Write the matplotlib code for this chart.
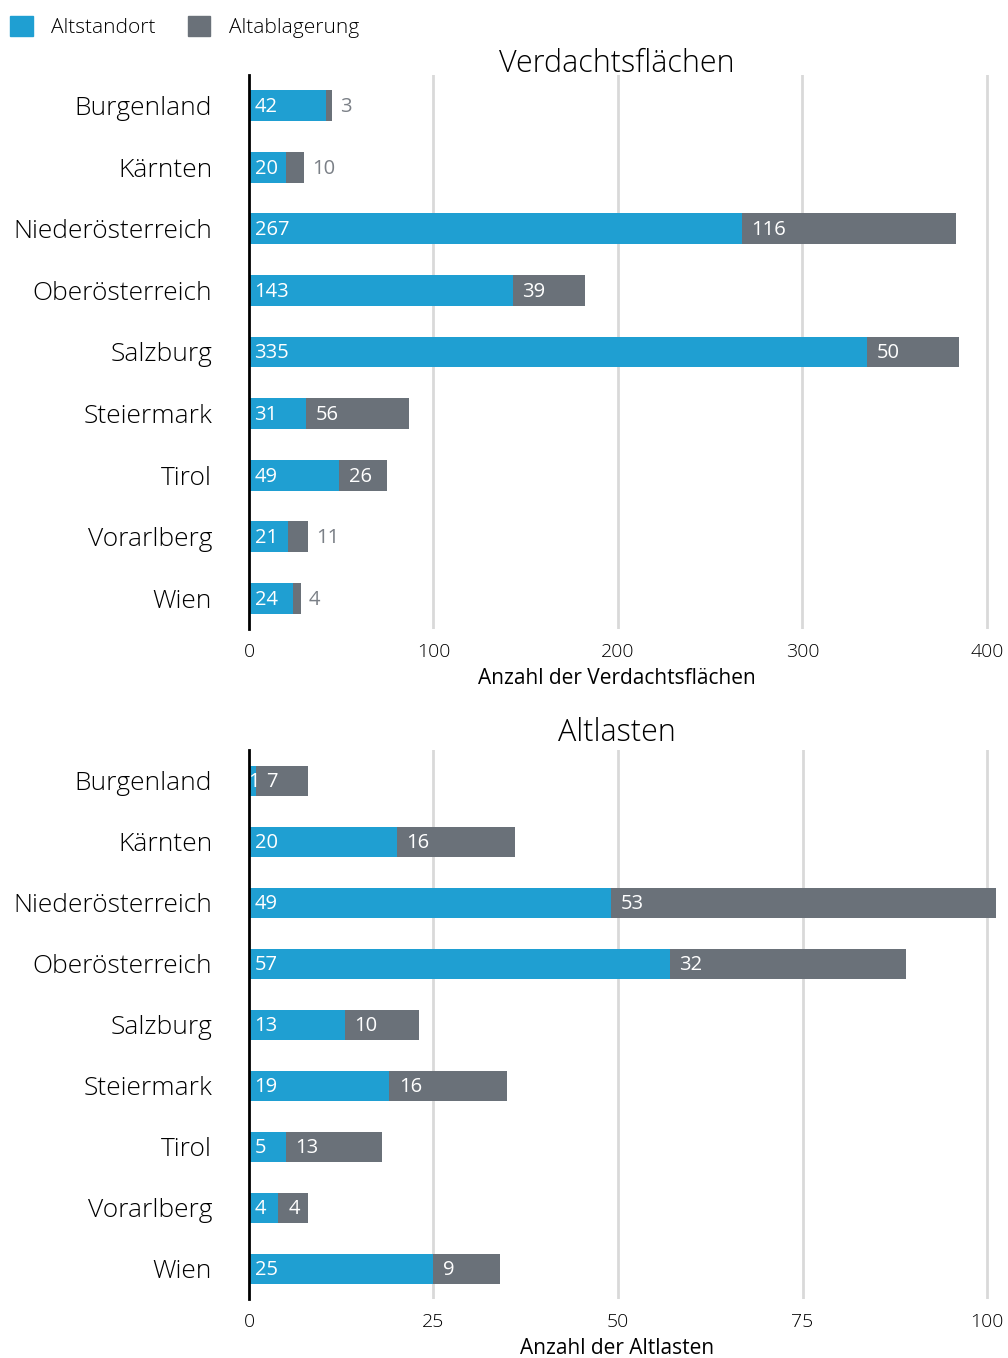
import numpy as np
import matplotlib.pyplot as plt
from matplotlib.patches import Patch

plt.rcParams['font.family'] = ['Open Sans', 'DejaVu Sans']
plt.rcParams['font.weight'] = 'light'

laender = ['Burgenland', 'Kärnten', 'Niederösterreich', 'Oberösterreich', 'Salzburg',
           'Steiermark', 'Tirol', 'Vorarlberg', 'Wien']

verdacht_altstandort = [42, 20, 267, 143, 335, 31, 49, 21, 24]
verdacht_altablagerung = [3, 10, 116, 39, 50, 56, 26, 11, 4]

altlasten_altstandort = [1, 20, 49, 57, 13, 19, 5, 4, 25]
altlasten_altablagerung = [7, 16, 53, 32, 10, 16, 13, 4, 9]

verdacht_ticks = [0, 100, 200, 300, 400]
altlasten_ticks = [0, 25, 50, 75, 100]

blau = '#1f9fd2'
grau = '#6a7179'
gitter = '#d9d9d9'

fig = plt.figure(figsize=(10.08, 13.58), dpi=100)
ax1 = fig.add_axes([0.247, 0.5368, 0.741, 0.408])
ax2 = fig.add_axes([0.247, 0.0431, 0.741, 0.4043])

zahl = dict(fontsize=14.5, fontweight='normal', va='center', textcoords='offset points')


def panel(ax, a, b, ticks, xmax, title, title_y, xlabel):
    y = np.arange(len(laender))
    ax.barh(y, a, height=0.5, color=blau, zorder=2)
    ax.barh(y, b, left=a, height=0.5, color=grau, zorder=2)
    ax.set_xlim(0, xmax)
    ax.set_ylim(len(laender) - 0.5, -0.5)
    ax.set_yticks(y)
    ax.set_yticklabels(laender, fontsize=19)
    ax.set_xticks(ticks)
    ax.set_xticklabels([str(t) for t in ticks], fontsize=14)
    ax.tick_params(length=0, pad=10)
    ax.tick_params(axis='y', pad=26.5)
    for t in ticks[1:]:
        ax.axvline(t, color=gitter, lw=2, zorder=1)
    for s in ['top', 'right', 'bottom']:
        ax.spines[s].set_visible(False)
    ax.spines['left'].set_linewidth(2)
    ax.spines['left'].set_zorder(3)
    fig.text(617 / 1008, title_y, title, fontsize=22, ha='center', va='center')
    ax.set_xlabel(xlabel, fontsize=15)
    ax.xaxis.set_label_coords(0.493, -0.071)

    px = 747 / xmax  # Pixel pro Einheit
    for i in range(len(laender)):
        if a[i] * px < 15:
            # sehr schmales Segment: Zahl mittig setzen
            ax.annotate(str(a[i]), (a[i] / 2, i), xytext=(1, -1), ha='center',
                        color='white', zorder=4, **zahl)
        else:
            ax.annotate(str(a[i]), (0, i), xytext=(4, -1), ha='left',
                        color='white', zorder=4, **zahl)
        if b[i] * px < 25:
            ax.annotate(str(b[i]), (a[i] + b[i], i), xytext=(6, -1), ha='left',
                        color='#7b8087', **zahl)
        else:
            ax.annotate(str(b[i]), (a[i], i), xytext=(7, -1), ha='left',
                        color='white', zorder=4, **zahl)


panel(ax1, verdacht_altstandort, verdacht_altablagerung, verdacht_ticks, 404.9,
      'Verdachtsflächen', 1 - 64 / 1358, 'Anzahl der Verdachtsflächen')
panel(ax2, altlasten_altstandort, altlasten_altablagerung, altlasten_ticks, 101.2,
      'Altlasten', 1 - 733 / 1358, 'Anzahl der Altlasten')

handles = [Patch(color=blau, label='Altstandort'), Patch(color=grau, label='Altablagerung')]
fig.legend(handles=handles, loc='upper left', bbox_to_anchor=(-0.009, 1.002), ncol=2,
           frameon=False, fontsize=15, handlelength=1.1, handleheight=1.1,
           handletextpad=0.9, columnspacing=1.52, borderaxespad=0.5)

fig.savefig('out.png', dpi=100)
